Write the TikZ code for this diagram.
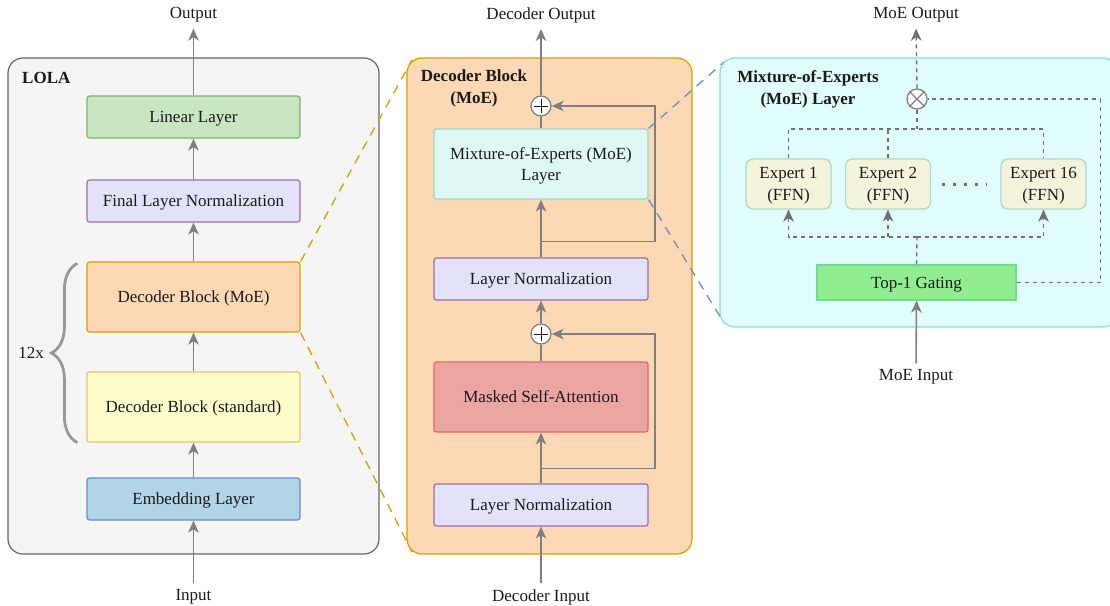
\documentclass[tikz,border=0pt]{standalone}
\usepackage{fontspec}
\setmainfont{Liberation Serif}
\usetikzlibrary{arrows.meta,decorations.pathreplacing,calc}
\definecolor{linec}{HTML}{808080}
\definecolor{dashc}{HTML}{707070}
\definecolor{txt}{HTML}{1A1A1A}
\definecolor{lpfill}{HTML}{F5F5F5}
\definecolor{lpdraw}{HTML}{666666}
\definecolor{linfill}{HTML}{C8E6C2}
\definecolor{lindraw}{HTML}{82B366}
\definecolor{lnfill}{HTML}{E4E2F8}
\definecolor{lndraw}{HTML}{9673A6}
\definecolor{orfill}{HTML}{FDD8B5}
\definecolor{ordraw}{HTML}{D99F00}
\definecolor{yefill}{HTML}{FFFCCC}
\definecolor{yedraw}{HTML}{EBC36A}
\definecolor{blfill}{HTML}{B1D5E7}
\definecolor{bldraw}{HTML}{6C8EBF}
\definecolor{cyfill}{HTML}{E0F8F4}
\definecolor{cydraw}{HTML}{8FDCC4}
\definecolor{rdfill}{HTML}{EBA6A4}
\definecolor{rddraw}{HTML}{E8636E}
\definecolor{rpfill}{HTML}{E0FCFD}
\definecolor{rpdraw}{HTML}{8EDCC8}
\definecolor{exfill}{HTML}{F4F3DC}
\definecolor{exdraw}{HTML}{A9DCC4}
\definecolor{gtfill}{HTML}{90EE90}
\definecolor{gtdraw}{HTML}{6FDC8C}
\definecolor{bracec}{HTML}{999999}
\begin{document}
\begin{tikzpicture}[x=1pt,y=-1pt,
  every node/.style={text=txt,font=\fontsize{17}{21}\selectfont},
  panel/.style={draw, line width=1.2pt, rounded corners=15pt, inner sep=0pt},
  blk/.style={draw, line width=1.2pt, rounded corners=2.5pt, align=center, inner sep=0pt, text depth=0pt},
  lbl/.style={inner sep=2pt},
  ttl/.style={inner sep=0pt, align=center, font=\bfseries\fontsize{17}{22}\selectfont},
  arr/.style={draw=linec, line width=1.6pt, -{Stealth[length=12pt,width=10.5pt,inset=3.5pt]}},
  ln/.style={draw=linec, line width=1.6pt},
  dsh/.style={draw=dashc, line width=1.4pt, dash pattern=on 4pt off 4pt},
  dsharr/.style={dsh, -{Stealth[length=12pt,width=10.5pt,inset=3.5pt]}},
  zm/.style={line width=1.3pt, dash pattern=on 9pt off 7pt},
  opc/.style={circle, draw=linec, fill=white, line width=1.3pt, minimum size=20pt, inner sep=0pt}
]
\useasboundingbox (0,0) rectangle (1110,605);

% ---------------- Left panel ----------------
\node[panel, draw=lpdraw, fill=lpfill, minimum width=371pt, minimum height=496pt] (lp) at (193.5,306) {};
\node[ttl, anchor=west] (lolat) at (22,78) {LOLA};
\node[blk, draw=lindraw, fill=linfill, minimum width=213pt, minimum height=42pt] (lin) at (193.5,117) {Linear Layer};
\node[blk, draw=lndraw, fill=lnfill, minimum width=213pt, minimum height=42pt] (fln) at (193.5,201) {Final Layer Normalization};
\node[blk, draw=ordraw, fill=orfill, minimum width=213pt, minimum height=70pt] (dmoe) at (193.5,297) {Decoder Block (MoE)};
\node[blk, draw=yedraw, fill=yefill, minimum width=213pt, minimum height=70pt] (dstd) at (193.5,407) {Decoder Block (standard)};
\node[blk, draw=bldraw, fill=blfill, minimum width=213pt, minimum height=42pt] (emb) at (193.5,499) {Embedding Layer};
\node[lbl] (outt) at (193.5,15) {Output};
\node[lbl] (int) at (193.5,597) {Input};
\node[lbl] (rep) at (31,353) {12x};
\draw[arr, shorten >=4pt] (lin.north) -- (outt.south);
\draw[arr] (fln.north) -- (lin.south);
\draw[arr] (dmoe.north) -- (fln.south);
\draw[arr] (dstd.north) -- (dmoe.south);
\draw[arr] (emb.north) -- (dstd.south);
\draw[arr, shorten <=4pt] (int.north) -- (emb.south);
\draw[draw=bracec, line width=2.8pt, decorate, decoration={brace, amplitude=26pt, aspect=0.5}]
  ($(dstd.south west)+(-9,0)$) -- ($(dmoe.north west)+(-9,2)$);

% ---------------- zoom lines (orange) ----------------
\coordinate (mtl) at (412,60);
\coordinate (mbl) at (412,552);
\draw[zm, draw=ordraw] (dmoe.north east) -- (mtl);
\draw[zm, draw=ordraw] (dmoe.south east) -- (mbl);

% ---------------- Middle panel ----------------
\node[panel, draw=ordraw, fill=orfill, minimum width=285pt, minimum height=496pt] (mp) at (549.5,306) {};
\node[ttl] (mpt) at (474,88) {Decoder Block\\(MoE)};
\node[blk, draw=cydraw, fill=cyfill, minimum width=214pt, minimum height=70pt] (moe) at (541,164) {Mixture-of-Experts (MoE)\\Layer};
\node[blk, draw=lndraw, fill=lnfill, minimum width=214pt, minimum height=42pt] (ln2) at (541,279) {Layer Normalization};
\node[blk, draw=rddraw, fill=rdfill, minimum width=214pt, minimum height=70pt] (msa) at (541,397) {Masked Self-Attention};
\node[blk, draw=lndraw, fill=lnfill, minimum width=214pt, minimum height=42pt] (ln1) at (541,505) {Layer Normalization};
\node[opc] (p1) at (541,106) {};
\node[opc] (p2) at (541,334) {};
\draw[line width=0.9pt, draw=txt] ($(p1)+(-7,0)$) -- ($(p1)+(7,0)$) ($(p1)+(0,-7)$) -- ($(p1)+(0,7)$);
\draw[line width=0.9pt, draw=txt] ($(p2)+(-7,0)$) -- ($(p2)+(7,0)$) ($(p2)+(0,-7)$) -- ($(p2)+(0,7)$);
\node[lbl] (dout) at (541,15) {Decoder Output};
\node[lbl] (din) at (541,597) {Decoder Input};
\draw[arr, shorten >=4pt] (p1.north) -- (dout.south);
\draw[ln] (moe.north) -- (p1.south);
\draw[arr] (ln2.north) -- (moe.south);
\coordinate (r1) at ($(ln2.north)+(0,-16)$);
\draw[arr] (r1) -- ++(114,0) |- (p1.east);
\draw[arr] (p2.north) -- (ln2.south);
\draw[ln] (msa.north) -- (p2.south);
\draw[arr] (ln1.north) -- (msa.south);
\coordinate (r2) at ($(ln1.north)+(0,-15)$);
\draw[arr] (r2) -- ++(114,0) |- (p2.east);
\draw[arr, shorten <=4pt] (din.north) -- (ln1.south);

% ---------------- zoom lines (blue) ----------------
\coordinate (rtl) at (724,62);
\coordinate (rbl) at (724,323);
\draw[zm, draw=bldraw] (moe.north east) -- (rtl);
\draw[zm, draw=bldraw] (moe.south east) -- (rbl);

% ---------------- Right panel ----------------
\node[panel, draw=rpdraw, fill=rpfill, minimum width=398pt, minimum height=269pt] (rp) at (919,192.5) {};
\node[ttl] (rpt) at (808,89) {Mixture-of-Experts\\(MoE) Layer};
\node[blk, draw=exdraw, fill=exfill, rounded corners=7pt, minimum width=85pt, minimum height=50pt, font=\fontsize{17}{22}\selectfont] (e1) at (788.5,184) {Expert 1\\(FFN)};
\node[blk, draw=exdraw, fill=exfill, rounded corners=7pt, minimum width=85pt, minimum height=50pt, font=\fontsize{17}{22}\selectfont] (e2) at (888,184) {Expert 2\\(FFN)};
\node[blk, draw=exdraw, fill=exfill, rounded corners=7pt, minimum width=85pt, minimum height=50pt, font=\fontsize{17}{22}\selectfont] (e16) at (1043.5,184) {Expert 16\\(FFN)};
\node[blk, draw=gtdraw, fill=gtfill, rounded corners=0pt, minimum width=199pt, minimum height=35pt] (g) at (916.5,282.5) {Top-1 Gating};
\node[opc] (ot) at (917,99) {};
\draw[line width=1.1pt, draw=linec] (ot.north west) -- (ot.south east) (ot.north east) -- (ot.south west);
\node[lbl] (mout) at (916,15) {MoE Output};
\node[lbl] (min) at (916,377) {MoE Input};
\draw[dsharr, shorten >=4pt] (ot.north) -- (mout.south);
\coordinate (tb) at (917,129);
\coordinate (bb) at (917,237);
\draw[dsh] (ot.south) -- (tb);
\draw[dsh] (e1.north) |- (tb) -| (e16.north);
\draw[dsh] (e2.north) -- (e2.north |- tb);
\draw[dsh] (g.north) -- (bb);
\draw[dsharr] (bb) -| (e1.south);
\draw[dsharr] (bb) -| (e16.south);
\draw[dsharr] (e2.south |- bb) -- (e2.south);
\draw[dsh] (g.east) -- ++(84,0) |- (ot.east);
\draw[draw=dashc, line width=3pt, dash pattern=on 3pt off 8pt] ($(e2.east)+(11,0)$) -- ($(e16.west)+(-13,0)$);
\draw[arr, shorten <=4pt] (min.north) -- (g.south);
\end{tikzpicture}
\end{document}
